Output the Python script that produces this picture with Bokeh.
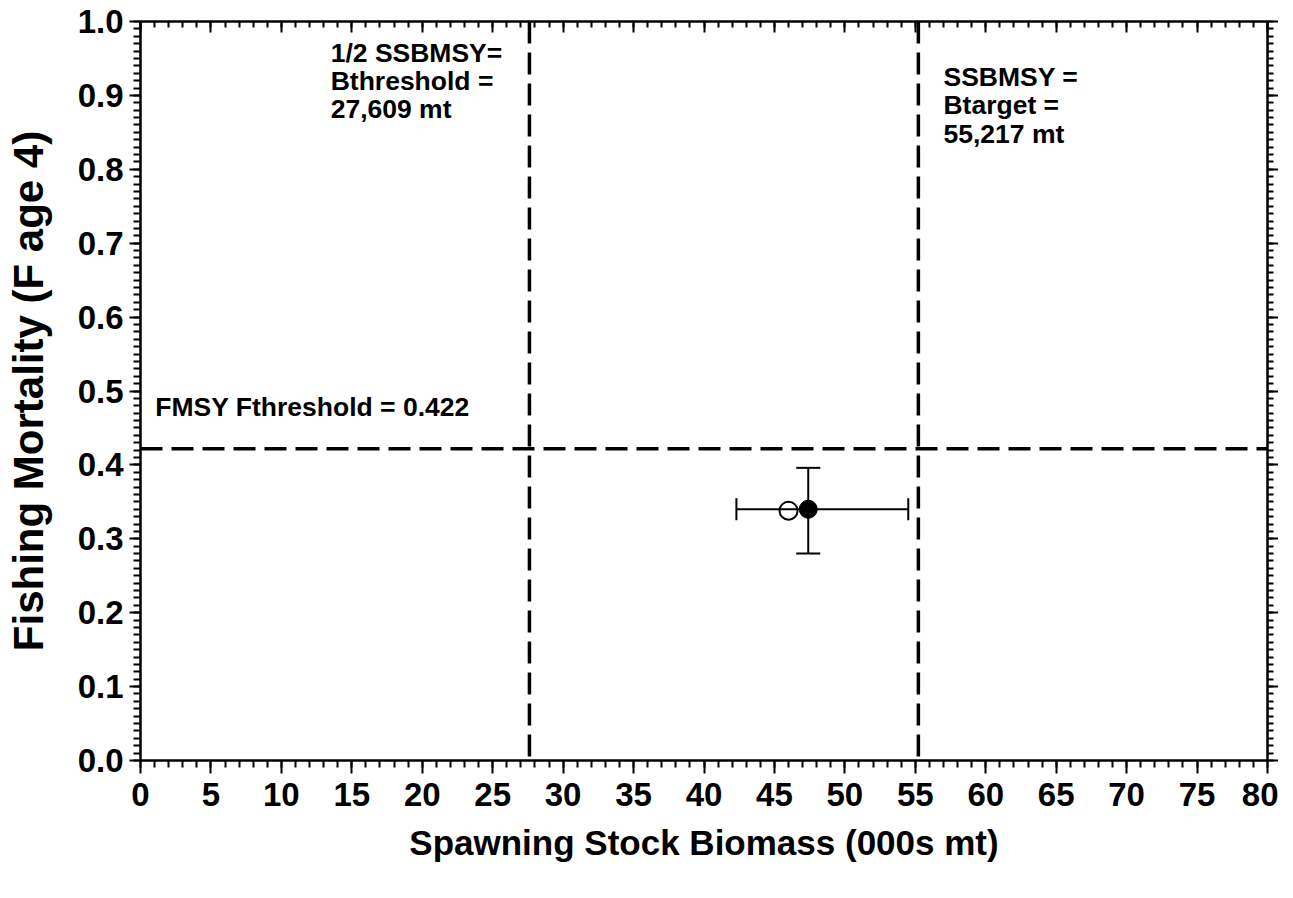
from bokeh.plotting import figure
from bokeh.models import (Span, Label, Whisker, TeeHead, ColumnDataSource, FixedTicker,
                          LinearAxis, PrintfTickFormatter, Range1d, CustomJSTickFormatter)
from bokeh.embed import file_html
from bokeh.resources import INLINE

# ---- data ----
x_major = [0, 5, 10, 15, 20, 25, 30, 35, 40, 45, 50, 55, 60, 65, 70, 75, 80]
x_minor = list(range(0, 81))
y_major = [0.0, 0.1, 0.2, 0.3, 0.4, 0.5, 0.6, 0.7, 0.8, 0.9, 1.0]
y_minor = [i / 100 for i in range(0, 101)]

b_threshold = 27.609
b_target = 55.217
f_threshold = 0.422

ssb_point = [47.4]
f_point = [0.340]
ssb_lo = [42.3]
ssb_hi = [54.5]
f_lo = [0.280]
f_hi = [0.396]

ssb_open = [46.0]
f_open = [0.338]

thr_lines = ["1/2 SSBMSY=", "Bthreshold =", "27,609 mt"]
tgt_lines = ["SSBMSY =", "Btarget =", "55,217 mt"]
f_text = "FMSY Fthreshold = 0.422"

FONT = "Liberation Sans"

p = figure(frame_width=1127, frame_height=739, output_backend="svg", toolbar_location=None,
           x_range=Range1d(0, 80), y_range=Range1d(0, 1),
           min_border_left=140, min_border_top=21, min_border_right=10, min_border_bottom=20)
p.grid.visible = False
p.outline_line_color = None
p.background_fill_color = "white"
p.border_fill_color = "white"

xt = FixedTicker(ticks=x_major, minor_ticks=x_minor)
yt = FixedTicker(ticks=y_major, minor_ticks=y_minor)
blank = CustomJSTickFormatter(code="return ''")

def style(ax):
    ax.axis_line_width = 2.5
    ax.axis_line_color = "black"
    ax.major_tick_line_width = 2
    ax.minor_tick_line_width = 2
    ax.major_tick_line_color = "black"
    ax.minor_tick_line_color = "black"
    ax.major_label_text_font = FONT
    ax.major_label_text_font_style = "bold"
    ax.major_label_text_color = "black"
    ax.axis_label_text_font = FONT
    ax.axis_label_text_font_style = "bold"
    ax.axis_label_text_color = "black"

xa = p.xaxis[0]
xa.ticker = xt
style(xa)
xa.major_tick_in = 0
xa.major_tick_out = 13
xa.minor_tick_in = 0
xa.minor_tick_out = 7
xa.major_label_text_font_size = "33px"
xa.major_label_standoff = 9
xa.axis_label = "Spawning Stock Biomass (000s mt)"
xa.axis_label_text_font_size = "35px"
xa.axis_label_standoff = 14

ya = p.yaxis[0]
ya.ticker = yt
style(ya)
ya.formatter = PrintfTickFormatter(format="%.1f")
ya.major_tick_in = 0
ya.major_tick_out = 11
ya.minor_tick_in = 0
ya.minor_tick_out = 7
ya.major_label_text_font_size = "33px"
ya.major_label_standoff = 6
ya.axis_label = "Fishing Mortality (F age 4)"
ya.axis_label_text_font_size = "42px"
ya.axis_label_standoff = 23

top = LinearAxis(ticker=xt, formatter=blank)
style(top)
top.major_tick_in = 11
top.major_tick_out = 0
top.minor_tick_in = 6
top.minor_tick_out = 0
top.major_label_standoff = 0
p.add_layout(top, "above")

right = LinearAxis(ticker=yt, formatter=blank)
style(right)
right.major_tick_in = 0
right.major_tick_out = 11
right.minor_tick_in = 0
right.minor_tick_out = 6
right.major_label_standoff = 0
p.add_layout(right, "right")

# reference lines
for loc, dim in [(b_threshold, "height"), (b_target, "height"), (f_threshold, "width")]:
    p.add_layout(Span(location=loc, dimension=dim, line_color="black", line_width=3.5,
                      line_dash="22 9"))

# error bars
src_h = ColumnDataSource(dict(base=f_point, lower=ssb_lo, upper=ssb_hi))
p.add_layout(Whisker(source=src_h, base="base", lower="lower", upper="upper", dimension="width",
                     line_width=2, line_color="black",
                     lower_head=TeeHead(size=22, line_width=2, line_color="black"),
                     upper_head=TeeHead(size=22, line_width=2, line_color="black")))
src_v = ColumnDataSource(dict(base=ssb_point, lower=f_lo, upper=f_hi))
p.add_layout(Whisker(source=src_v, base="base", lower="lower", upper="upper", dimension="height",
                     line_width=2, line_color="black",
                     lower_head=TeeHead(size=24, line_width=2, line_color="black"),
                     upper_head=TeeHead(size=24, line_width=2, line_color="black")))

p.scatter(ssb_open, f_open, size=18, marker="circle", fill_color=None, line_color="black",
          line_width=2)
p.scatter(ssb_point, f_point, size=18, marker="circle", fill_color="black", line_color="black")

# annotations
def add_lines(lines, x, y0, dy=0.0385, size="26.5px"):
    for i, t in enumerate(lines):
        p.add_layout(Label(x=x, y=y0 - i * dy, text=t, text_font=FONT, text_font_style="bold",
                           text_font_size=size, text_color="black", text_baseline="middle"))

add_lines(thr_lines, 13.5, 0.958)
add_lines(tgt_lines, 57.0, 0.925)
p.add_layout(Label(x=1.05, y=0.479, text=f_text, text_font=FONT, text_font_style="bold",
                   text_font_size="26.5px", text_color="black", text_baseline="middle"))

open("out.html", "w").write(file_html(p, INLINE))
